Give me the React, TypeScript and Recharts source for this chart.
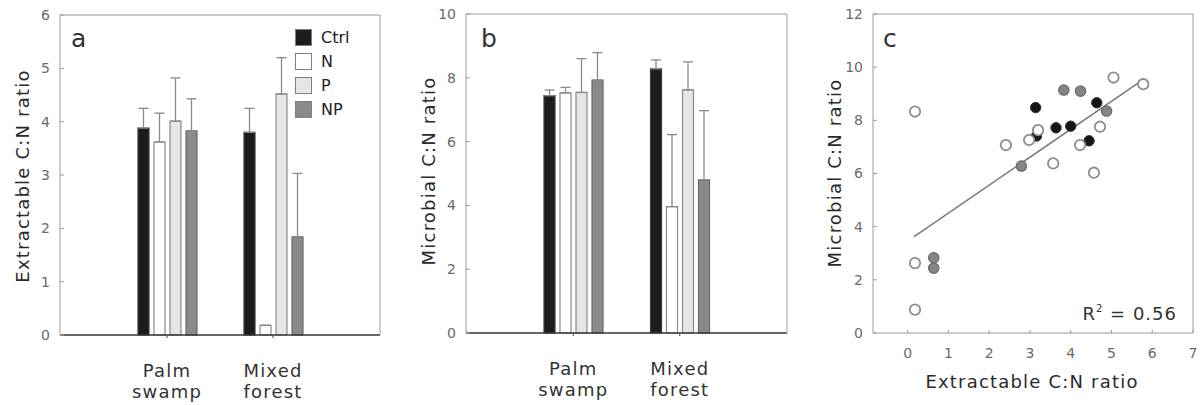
import React from 'react';
import {
  BarChart,
  Bar,
  XAxis,
  YAxis,
  ErrorBar,
  Legend,
  ScatterChart,
  Scatter,
} from 'recharts';

// ---------- data ----------
const categories = ['Palm swamp', 'Mixed forest'];
const treatments = ['Ctrl', 'N', 'P', 'NP'];

// Panel a: extractable C:N ratio (mean, upper error)
const extCtrl = [3.88, 3.8];
const extN = [3.62, 0.18];
const extP = [4.01, 4.52];
const extNP = [3.83, 1.84];
const extCtrlErr = [0.37, 0.45];
const extNErr = [0.54, 0];
const extPErr = [0.81, 0.68];
const extNPErr = [0.6, 1.19];

// Panel b: microbial C:N ratio
const micCtrl = [7.44, 8.28];
const micN = [7.53, 3.96];
const micP = [7.54, 7.62];
const micNP = [7.93, 4.8];
const micCtrlErr = [0.18, 0.28];
const micNErr = [0.17, 2.26];
const micPErr = [1.06, 0.88];
const micNPErr = [0.86, 2.17];

const yTicksA = [0, 1, 2, 3, 4, 5, 6];
const yTicksB = [0, 2, 4, 6, 8, 10];
const xTicksC = [0, 1, 2, 3, 4, 5, 6, 7];
const yTicksC = [0, 2, 4, 6, 8, 10, 12];

// Panel c: scatter
const ctrlX = [3.14, 3.16, 3.64, 4.0, 4.45, 4.64];
const ctrlY = [8.48, 7.41, 7.72, 7.78, 7.23, 8.66];
const npX = [0.64, 0.64, 2.79, 3.83, 4.24, 4.88];
const npY = [2.83, 2.44, 6.28, 9.14, 9.1, 8.35];
const openX = [0.18, 0.18, 0.18, 2.41, 2.98, 3.2, 3.57, 4.23, 4.57, 4.72, 5.05, 5.78];
const openY = [8.33, 2.63, 0.88, 7.07, 7.26, 7.63, 6.38, 7.07, 6.03, 7.76, 9.61, 9.36];
const fitX = [0.15, 5.75];
const fitY = [3.62, 9.5];

// ---------- styling ----------
const FONT = 'DejaVu Sans';
const AXIS_GRAY = '#9a9a9a';
const tickStyle = { fontSize: 14, fill: '#6a6a6a', fontFamily: FONT };
const barFills = ['#1c1c1c', '#ffffff', '#e6e6e6', '#8a8a8a'];
const barStrokes = ['#3a3a3a', '#8a8a8a', '#8a8a8a', '#6a6a6a'];

const buildRows = (means: number[][], errs: number[][]) =>
  categories.map((cat, i) => {
    const row: any = { cat };
    treatments.forEach((t, k) => {
      row[t] = means[k][i];
      row[t + 'Err'] = [0, errs[k][i]];
    });
    return row;
  });

const dataA = buildRows([extCtrl, extN, extP, extNP], [extCtrlErr, extNErr, extPErr, extNPErr]);
const dataB = buildRows([micCtrl, micN, micP, micNP], [micCtrlErr, micNErr, micPErr, micNPErr]);

const toPts = (xs: number[], ys: number[]) => xs.map((x, i) => ({ x, y: ys[i] }));

const CategoryTick = (props: any) => {
  const { x, y, payload } = props;
  const words = String(payload.value).split(' ');
  return (
    <text x={x} y={y + 37} textAnchor="middle" fontSize={18} fill="#333" fontFamily={FONT} letterSpacing={1.2}>
      <tspan x={x}>{words[0]}</tspan>
      <tspan x={x} dy={21}>{words[1]}</tspan>
    </text>
  );
};

const LegendBoxes = (props: any) => {
  const items = [...(props.payload || [])].sort(
    (a: any, b: any) => treatments.indexOf(a.value) - treatments.indexOf(b.value)
  );
  return (
    <div style={{ fontFamily: FONT }}>
      {items.map((e: any) => (
        <div key={e.value} style={{ display: 'flex', alignItems: 'center', height: 24 }}>
          <span
            style={{
              width: 15,
              height: 15,
              background: e.color,
              border: '1px solid #808080',
              display: 'inline-block',
              marginRight: 9,
            }}
          />
          <span style={{ fontSize: 16, color: '#222' }}>{e.value}</span>
        </div>
      ))}
    </div>
  );
};

const BarPanel = ({ data, yMax, yTicks, plotLeft, plotRight, plotTop, plotBottom, showLegend }: any) => {
  const W = 400;
  const H = 405;
  return (
    <BarChart
      width={W}
      height={H}
      data={data}
      margin={{ top: plotTop - 1, right: W - plotRight - 1, bottom: 10, left: 0 }}
      barSize={11}
      barGap={5}
    >
      <XAxis
        dataKey="cat"
        interval={0}
        height={H - plotBottom - 10}
        tick={<CategoryTick />}
        tickSize={3}
        tickLine={{ stroke: '#444' }}
        axisLine={{ stroke: '#333', strokeWidth: 1.5 }}
        padding={{ left: 54, right: 54 }}
      />
      <XAxis
        xAxisId="top"
        dataKey="cat"
        orientation="top"
        height={1}
        tick={false}
        tickLine={false}
        axisLine={{ stroke: AXIS_GRAY }}
        padding={{ left: 54, right: 54 }}
      />
      <YAxis
        type="number"
        domain={[0, yMax]}
        ticks={yTicks}
        width={plotLeft}
        tickSize={-4}
        tickMargin={14}
        tick={tickStyle}
        axisLine={{ stroke: AXIS_GRAY }}
        tickLine={{ stroke: AXIS_GRAY }}
      />
      <YAxis
        yAxisId="right"
        orientation="right"
        type="number"
        domain={[0, yMax]}
        ticks={yTicks}
        width={1}
        tickSize={-4}
        tick={false}
        axisLine={{ stroke: AXIS_GRAY }}
        tickLine={{ stroke: AXIS_GRAY }}
      />
      {showLegend && (
        <Legend
          layout="vertical"
          align="center"
          verticalAlign="middle"
          content={<LegendBoxes />}
          wrapperStyle={{ left: 295, top: 25, width: 80 }}
        />
      )}
      {treatments.map((t, k) => (
        <Bar
          key={t}
          dataKey={t}
          name={t}
          fill={barFills[k]}
          stroke={barStrokes[k]}
          strokeWidth={1.2}
          isAnimationActive={false}
        >
          <ErrorBar dataKey={t + 'Err'} width={5} stroke="#8a8a8a" strokeWidth={1.3} direction="y" isAnimationActive={false} />
        </Bar>
      ))}
    </BarChart>
  );
};

const OpenDot = (p: any) => <circle cx={p.cx} cy={p.cy} r={5.2} fill="#ffffff" stroke="#8c8c8c" strokeWidth={1.8} />;
const CtrlDot = (p: any) => <circle cx={p.cx} cy={p.cy} r={5.2} fill="#151515" stroke="#333" strokeWidth={1} />;
const NPDot = (p: any) => <circle cx={p.cx} cy={p.cy} r={5.2} fill="#858585" stroke="#6a6a6a" strokeWidth={1.2} />;
const NoDot = () => <g />;

const ScatterPanel = () => {
  const W = 403;
  const H = 405;
  const plotLeft = 73;
  const plotRight = 393;
  const plotTop = 14;
  const plotBottom = 333;
  return (
    <ScatterChart
      width={W}
      height={H}
      margin={{ top: plotTop - 1, right: W - plotRight - 1, bottom: 10, left: 0 }}
    >
      <XAxis
        type="number"
        dataKey="x"
        domain={[-0.85, 7]}
        ticks={xTicksC}
        allowDataOverflow
        height={H - plotBottom - 10}
        tickSize={-3}
        tickMargin={18}
        tick={tickStyle}
        axisLine={{ stroke: AXIS_GRAY }}
        tickLine={{ stroke: AXIS_GRAY }}
      />
      <XAxis
        xAxisId="top"
        type="number"
        orientation="top"
        domain={[-0.85, 7]}
        allowDataOverflow
        height={1}
        tick={false}
        tickLine={false}
        axisLine={{ stroke: AXIS_GRAY }}
      />
      <YAxis
        type="number"
        dataKey="y"
        domain={[0, 12]}
        ticks={yTicksC}
        width={plotLeft}
        tickSize={-4}
        tickMargin={14}
        tick={tickStyle}
        axisLine={{ stroke: AXIS_GRAY }}
        tickLine={{ stroke: AXIS_GRAY }}
      />
      <YAxis
        yAxisId="right"
        orientation="right"
        type="number"
        domain={[0, 12]}
        ticks={yTicksC}
        width={1}
        tickSize={-4}
        tick={false}
        axisLine={{ stroke: AXIS_GRAY }}
        tickLine={{ stroke: AXIS_GRAY }}
      />
      <Scatter
        data={toPts(fitX, fitY)}
        fill="#7a7a7a"
        line={{ stroke: '#7a7a7a', strokeWidth: 1.5 }}
        shape={<NoDot />}
        isAnimationActive={false}
      />
      <Scatter data={toPts(npX, npY)} shape={<NPDot />} isAnimationActive={false} />
      <Scatter data={toPts(ctrlX, ctrlY)} shape={<CtrlDot />} isAnimationActive={false} />
      <Scatter data={toPts(openX, openY)} shape={<OpenDot />} isAnimationActive={false} />
    </ScatterChart>
  );
};

const titleStyle: any = { fontSize: 18, fill: '#2a2a2a', fontFamily: FONT, letterSpacing: 1.2 };

export default function App() {
  return (
    <div style={{ position: 'absolute', left: 0, top: 0, width: 1203, height: 405, background: '#fff', overflow: 'hidden' }}>
      <div style={{ position: 'absolute', left: 0, top: 0 }}>
        <BarPanel data={dataA} yMax={6} yTicks={yTicksA} plotLeft={60} plotRight={380} plotTop={15} plotBottom={335} showLegend />
      </div>
      <div style={{ position: 'absolute', left: 400, top: 0 }}>
        <BarPanel data={dataB} yMax={10} yTicks={yTicksB} plotLeft={66} plotRight={387} plotTop={14} plotBottom={333} showLegend={false} />
      </div>
      <div style={{ position: 'absolute', left: 800, top: 0 }}>
        <ScatterPanel />
      </div>
      <svg width={1203} height={405} style={{ position: 'absolute', left: 0, top: 0, pointerEvents: 'none' }}>
        <text transform="translate(29,176) rotate(-90)" textAnchor="middle" style={titleStyle}>
          Extractable C:N ratio
        </text>
        <text transform="translate(435,171) rotate(-90)" textAnchor="middle" style={titleStyle}>
          Microbial C:N ratio
        </text>
        <text transform="translate(841,173) rotate(-90)" textAnchor="middle" style={titleStyle}>
          Microbial C:N ratio
        </text>
        <text x={1032} y={388} textAnchor="middle" style={titleStyle}>
          Extractable C:N ratio
        </text>
        <text x={71} y={47} fontSize={25} fill="#333" fontFamily={FONT}>a</text>
        <text x={481} y={47} fontSize={25} fill="#333" fontFamily={FONT}>b</text>
        <text x={883} y={47} fontSize={25} fill="#333" fontFamily={FONT}>c</text>
        <text x={1177} y={320} textAnchor="end" fontSize={18} fill="#333" fontFamily={FONT} letterSpacing={1}>
          R
          <tspan fontSize={10} dy={-8}>2</tspan>
          <tspan dy={8}> = 0.56</tspan>
        </text>
      </svg>
    </div>
  );
}
